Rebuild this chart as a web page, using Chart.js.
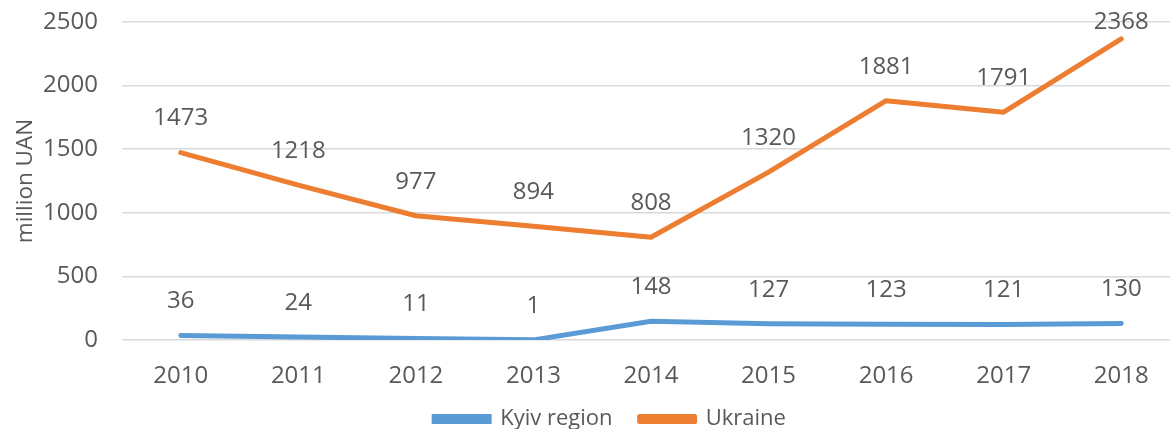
<!DOCTYPE html>
<html>
<head>
<meta charset="utf-8">
<script src="https://cdn.jsdelivr.net/npm/chart.js@4/dist/chart.umd.min.js"></script>
<style>
  html, body { margin: 0; padding: 0; background: #fff; overflow: hidden; }
  #wrap { width: 1180px; height: 440px; }
</style>
</head>
<body>
<div id="wrap"><canvas id="chart" width="1180" height="440"></canvas></div>
<script>
const years = ['2010', '2011', '2012', '2013', '2014', '2015', '2016', '2017', '2018'];
const kyivRegion = [36, 24, 11, 1, 148, 127, 123, 121, 130];
const ukraine = [1473, 1218, 977, 894, 808, 1320, 1881, 1791, 2368];
const yTicks = [0, 500, 1000, 1500, 2000, 2500];

const textColor = '#595959';
const fontFamily = "'Open Sans', 'Noto Sans', sans-serif";
const fontSize = 24;

// labels sit above each point, like the Excel "above" placement
const pointLabels = {
    id: 'pointLabels',
    afterDatasetsDraw(chart) {
        const ctx = chart.ctx;
        ctx.save();
        ctx.font = fontSize + 'px ' + fontFamily;
        ctx.fillStyle = textColor;
        ctx.textAlign = 'center';
        ctx.textBaseline = 'middle';
        chart.data.datasets.forEach((ds, i) => {
            chart.getDatasetMeta(i).data.forEach((pt, j) => {
                const y = Math.max(pt.y - 34, 22);
                ctx.fillText(String(ds.data[j]), pt.x, y);
            });
        });
        ctx.restore();
    }
};

// the legend sits a little right of the canvas centre in the original
const legendShift = {
    id: 'legendShift',
    afterLayout(chart) {
        chart.legend.left += 20;
        chart.legend.right += 20;
    }
};

const ctx = document.getElementById('chart').getContext('2d');
new Chart(ctx, {
    type: 'line',
    data: {
        labels: years,
        datasets: [
            {
                label: 'Kyiv region',
                data: kyivRegion,
                borderColor: '#5B9BD5',
                backgroundColor: '#5B9BD5',
                borderWidth: 5,
                borderCapStyle: 'round',
                pointRadius: 0,
                tension: 0
            },
            {
                label: 'Ukraine',
                data: ukraine,
                borderColor: '#ED7D31',
                backgroundColor: '#ED7D31',
                borderWidth: 5,
                borderCapStyle: 'round',
                borderJoinStyle: 'round',
                pointRadius: 0,
                tension: 0
            }
        ]
    },
    options: {
        responsive: false,
        animation: false,
        layout: { padding: { top: 22, left: 0, right: 0, bottom: 0 } },
        plugins: {
            legend: {
                position: 'bottom',
                labels: {
                    boxWidth: 55,
                    boxHeight: 5,
                    padding: 10,
                    color: textColor,
                    font: { family: fontFamily, size: 22 },
                    generateLabels(chart) {
                        const items = Chart.defaults.plugins.legend.labels.generateLabels(chart);
                        items[0].text += '   ';
                        return items;
                    }
                }
            },
            tooltip: { enabled: false }
        },
        scales: {
            x: {
                offset: true,
                grid: { display: false },
                border: { display: false },
                ticks: { color: textColor, padding: 14, font: { family: fontFamily, size: fontSize } },
                afterFit(scale) { scale.height = 58; }
            },
            y: {
                min: 0,
                max: 2500,
                afterBuildTicks(scale) { scale.ticks = yTicks.map(v => ({ value: v })); },
                grid: { color: '#D9D9D9', lineWidth: 1.5, drawTicks: false },
                border: { display: false },
                ticks: {
                    color: textColor,
                    padding: 24,
                    font: { family: fontFamily, size: fontSize },
                    callback: v => String(v)
                },
                title: {
                    display: true,
                    text: 'million UAN',
                    color: textColor,
                    font: { family: fontFamily, size: 22.5 },
                    padding: { top: 12, bottom: 0 }
                },
                afterFit(scale) {
                    scale.width = 122;
                    scale.paddingTop = 0;
                    scale.paddingBottom = 0;
                }
            }
        }
    },
    plugins: [pointLabels, legendShift]
});
</script>
</body>
</html>
